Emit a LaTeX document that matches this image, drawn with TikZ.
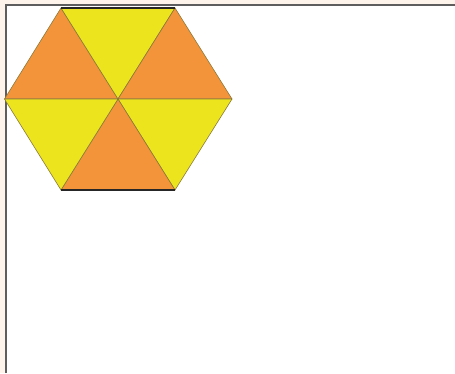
\documentclass[tikz,border=0pt]{standalone}
\begin{document}
\begin{tikzpicture}[x=1pt,y=-1pt,
  tri/.style={draw=edgec,line width=0.6pt,line join=round},
  org/.style={tri,fill=orangec},
  yel/.style={tri,fill=yellowc}]
\definecolor{orangec}{HTML}{F4943A}
\definecolor{yellowc}{HTML}{ECE51E}
\definecolor{edgec}{HTML}{8A7A3A}
\definecolor{peach}{HTML}{FFF4EC}
\definecolor{framec}{HTML}{5E5E5E}
\useasboundingbox (0,0) rectangle (455,373);
\fill[peach] (0,0) rectangle (455,373);
\fill[white] (6,5) rectangle (455,373);
\draw[framec,line width=1.6pt] (5.8,373) -- (5.8,4.8) -- (455,4.8);
\coordinate (c) at (118,99);
\coordinate (l) at (4.5,99);
\coordinate (r) at (232,99);
\coordinate (tl) at (61,8);
\coordinate (tr) at (175,8);
\coordinate (bl) at (61,190);
\coordinate (br) at (175,190);
\filldraw[org] (c) -- (l) -- (tl) -- cycle;
\filldraw[yel] (c) -- (tl) -- (tr) -- cycle;
\filldraw[org] (c) -- (tr) -- (r) -- cycle;
\filldraw[yel] (c) -- (r) -- (br) -- cycle;
\filldraw[org] (c) -- (br) -- (bl) -- cycle;
\filldraw[yel] (c) -- (bl) -- (l) -- cycle;
\draw[black!85,line width=1.2pt] (tl) -- (tr);
\draw[black!85,line width=1.2pt] (bl) -- (br);
\end{tikzpicture}
\end{document}
